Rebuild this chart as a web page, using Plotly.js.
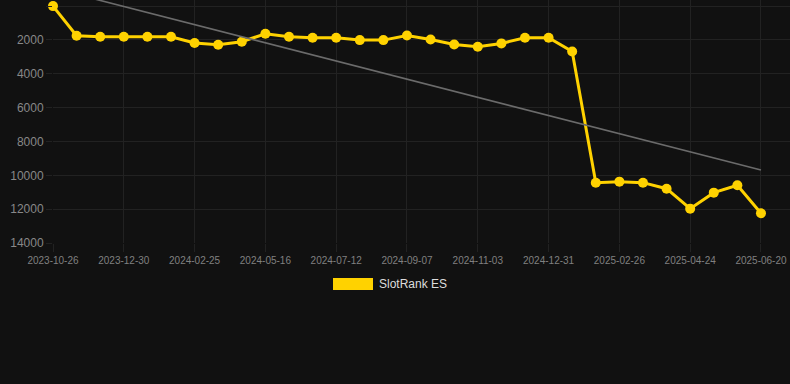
<!DOCTYPE html>
<html>
<head>
<meta charset="utf-8">
<script src="https://cdn.plot.ly/plotly-3.0.1.min.js"></script>
<style>
html,body{margin:0;padding:0;background:#111111;}
#chart{width:790px;height:384px;}
</style>
</head>
<body>
<div id="chart"></div>
<script>
var dates = [
  "2023-10-26","2023-11-14","2023-12-03","2023-12-30","2024-01-18","2024-02-06",
  "2024-02-25","2024-03-15","2024-04-03","2024-05-16","2024-06-04","2024-06-23",
  "2024-07-12","2024-07-31","2024-08-19","2024-09-07","2024-09-26","2024-10-15",
  "2024-11-03","2024-11-22","2024-12-11","2024-12-31","2025-01-19","2025-02-07",
  "2025-02-26","2025-03-17","2025-04-05","2025-04-24","2025-05-13","2025-06-01",
  "2025-06-20"
];
var rankES = [
  0, 1755, 1810, 1810, 1810, 1810,
  2185, 2285, 2105, 1635, 1810, 1870,
  1870, 2010, 2010, 1735, 1970, 2265,
  2400, 2205, 1870, 1870, 2680, 10435,
  10375, 10435, 10790, 11970, 11025, 10590,
  12245
];
var trendX = [dates[0], dates[dates.length - 1]];
var trendY = [-1050, 9686];
var tickDates = dates.filter(function(d, i){ return i % 3 === 0; });
var yTicks = [0, 2000, 4000, 6000, 8000, 10000, 12000, 14000];
var yTickText = ["0", "2000", "4000", "6000", "8000", "10000", "12000", "14000"];
var seriesName = "SlotRank ES";

var gold = "#FFD200";
var grid = "#222222";

var traces = [
  {
    x: dates, y: rankES, type: "scatter", mode: "lines+markers",
    name: seriesName,
    line: {color: gold, width: 3},
    marker: {color: gold, size: 10},
    cliponaxis: false, showlegend: false
  },
  {
    x: trendX, y: trendY, type: "scatter", mode: "lines",
    line: {color: "#6b6b6b", width: 1.6},
    hoverinfo: "skip", showlegend: false
  }
];

var layout = {
  width: 790, height: 384,
  paper_bgcolor: "#111111", plot_bgcolor: "#111111",
  margin: {l: 53, r: 0, t: 0, b: 141},
  font: {family: "Liberation Sans, Arial, sans-serif", color: "#888888"},
  showlegend: false,
  xaxis: {
    type: "category",
    categoryorder: "array", categoryarray: dates,
    range: [0, 31.23],
    tickmode: "array", tickvals: tickDates, ticktext: tickDates,
    showgrid: true, gridcolor: grid, gridwidth: 1,
    ticks: "outside", ticklen: 8, tickcolor: grid,
    tickfont: {size: 10, color: "#808080"},
    zeroline: false, showline: false
  },
  yaxis: {
    autorange: false,
    range: [14000, -360],
    tickmode: "array", tickvals: yTicks, ticktext: yTickText,
    showgrid: true, gridcolor: grid, gridwidth: 1,
    ticks: "outside", ticklen: 6, tickcolor: grid,
    tickfont: {size: 12, color: "#888888"},
    zeroline: false, showline: false
  },
  shapes: [
    {type: "rect", xref: "paper", yref: "paper",
     x0: (333 - 53) / 737, x1: (373 - 53) / 737,
     y0: -(278 - 243) / 243, y1: -(290 - 243) / 243,
     fillcolor: gold, line: {width: 0}}
  ],
  annotations: [
    {xref: "paper", yref: "paper", x: (377 - 53) / 737, y: -(284 - 243) / 243,
     xanchor: "left", yanchor: "middle", showarrow: false,
     text: seriesName, font: {size: 12, color: "#dddddd"}}
  ]
};

Plotly.newPlot("chart", traces, layout, {displayModeBar: false, staticPlot: true});
</script>
</body>
</html>
